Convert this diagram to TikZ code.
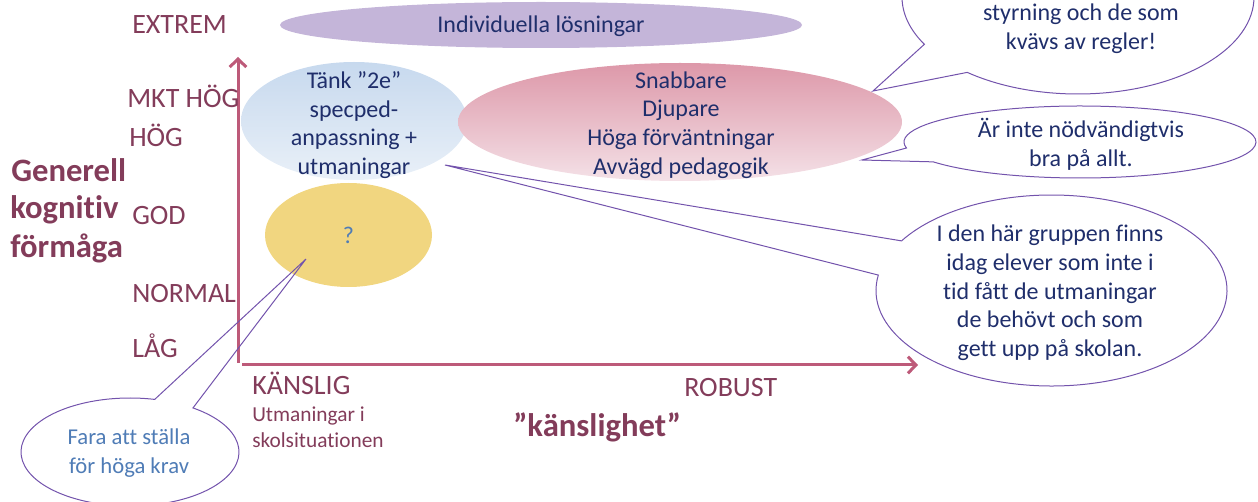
\documentclass[tikz,border=0pt]{standalone}
\usepackage{fontspec}
\setmainfont{Carlito}[Ligatures={NoCommon}]
\usetikzlibrary{arrows.meta,shapes.geometric,calc}
\definecolor{labcol}{HTML}{833C5A}
\definecolor{axiscol}{HTML}{BD5A79}
\definecolor{navy}{HTML}{1F2E6B}
\definecolor{purpfill}{HTML}{C4B5D9}
\definecolor{blueA}{HTML}{C7D9EE}
\definecolor{blueB}{HTML}{E9F0F8}
\definecolor{pinkA}{HTML}{DD98A9}
\definecolor{pinkB}{HTML}{DF9DAD}
\definecolor{pinkC}{HTML}{F4E1E7}
\definecolor{yellowfill}{HTML}{F1D680}
\definecolor{steel}{HTML}{4F7CB6}
\definecolor{callcol}{HTML}{7353AC}
\tikzset{
  blob/.style={ellipse, draw=none, inner sep=0pt, outer sep=0pt},
  lab/.style={anchor=base west, inner sep=0pt, text=labcol, font=\fontsize{21}{25}\selectfont},
  title/.style={anchor=base west, inner sep=0pt, text=labcol, font=\bfseries\fontsize{24.5}{29}\selectfont},
  small/.style={anchor=base west, inner sep=0pt, text=labcol, font=\fontsize{16}{19.5}\selectfont},
  body/.style={inner sep=0pt, align=center, text=navy, font=\fontsize{18}{21.5}\selectfont},
  bubble/.style={draw=callcol, line width=0.75pt, line join=miter},
  axisline/.style={draw=axiscol, line width=2.25pt, -{Straight Barb[length=6pt,width=12.5pt]}}
}
\begin{document}
\begin{tikzpicture}[x=0.75pt,y=-0.75pt]
\useasboundingbox (0,0) rectangle (1258,502);
\clip (0,0) rectangle (1258,502);
% ellipses
\node[blob, fill=purpfill, minimum width=391.5pt, minimum height=34.5pt] (indiv) at (541,25) {};
\node[body, anchor=base] (indivt) at (541,33) {Individuella lösningar};
\node[blob, top color=blueA, bottom color=blueB, minimum width=169.5pt, minimum height=88.5pt] (twoe) at (354,121) {};
\node[body] (twoet) at (354,125) {Tänk ”2e”\\specped-\\anpassning +\\utmaningar};
\node[blob, top color=pinkA, middle color=pinkB, bottom color=pinkC, minimum width=333pt, minimum height=88.5pt] (fast) at (680,122) {};
\node[body] (fastt) at (681,125) {Snabbare\\Djupare\\Höga förväntningar\\Avvägd pedagogik};
\node[blob, fill=yellowfill, minimum width=125.25pt, minimum height=78pt] (quest) at (348.5,235) {};
\node[body, text=steel] (questt) at (348.5,235) {?};
% axes
\coordinate (yb) at (238,363);
\coordinate (yt) at (238,57);
\coordinate (xo) at (242,365);
\coordinate (xe) at (918,365);
\draw[axisline] (yb) -- (yt);
\draw[axisline] (xo) -- (xe);
% axis labels
\node[lab] (lext) at (132,34) {EXTREM};
\node[lab] (lmkt) at (127,108) {MKT HÖG};
\node[lab] (lhog) at (129,147) {HÖG};
\node[lab] (lgod) at (132,225) {GOD};
\node[lab] (lnorm) at (132,303) {NORMAL};
\node[lab] (llag) at (132,358) {LÅG};
\node[lab] (lkan) at (252,395) {KÄNSLIG};
\node[lab] (lrob) at (684,397) {ROBUST};
\node[small] (lutm1) at (252,422) {Utmaningar i};
\node[small] (lutm2) at (252,448) {skolsituationen};
\node[title] (ttl1) at (11,182) {Generell};
\node[title] (ttl2) at (10,219) {kognitiv};
\node[title] (ttl3) at (10,258) {förmåga};
\node[title] (ttlx) at (513,437) {”känslighet”};
% callout tips
\coordinate (tip1) at (873,91);
\coordinate (tip2) at (862,160);
\coordinate (tip3) at (445,165);
\coordinate (tip4) at (306,259);
% callout 1
\draw[bubble] ($(1078,-3)+(150.8:176 and 97)$) -- (tip1) -- ($(1078,-3)+(129:176 and 97)$)
  arc[start angle=129, end angle=-209.2, x radius=176, y radius=97] -- cycle;
\node[body] (c1t) at (1081,29) {styrning och de som\\kvävs av regler!};
% callout 2
\draw[bubble] ($(1080,142)+(170.4:176 and 36)$) -- (tip2) -- ($(1080,142)+(146.5:176 and 36)$)
  arc[start angle=146.5, end angle=-189.6, x radius=176, y radius=36] -- cycle;
\node[body] (c2t) at (1081,144.5) {Är inte nödvändigtvis\\bra på allt.};
% callout 3
\draw[bubble] ($(1051.5,290.5)+(-148.7:175.5 and 95.5)$) -- (tip3) -- ($(1051.5,290.5)+(-170.7:175.5 and 95.5)$)
  arc[start angle=-170.7, end angle=-508.7, x radius=175.5, y radius=95.5] -- cycle;
\node[body] (c3t) at (1050,293) {I den här gruppen finns\\idag elever som inte i\\tid fått de utmaningar\\de behövt och som\\gett upp på skolan.};
% callout 4
\draw[bubble] ($(130,452)+(-76.9:109 and 54)$) -- (tip4) -- ($(130,452)+(-54.7:109 and 54)$)
  arc[start angle=-54.7, end angle=283.1, x radius=109, y radius=54] -- cycle;
\node[body, text=steel, font=\fontsize{17}{21.5}\selectfont] (c4t) at (129,453) {Fara att ställa\\för höga krav};
\end{tikzpicture}
\end{document}
